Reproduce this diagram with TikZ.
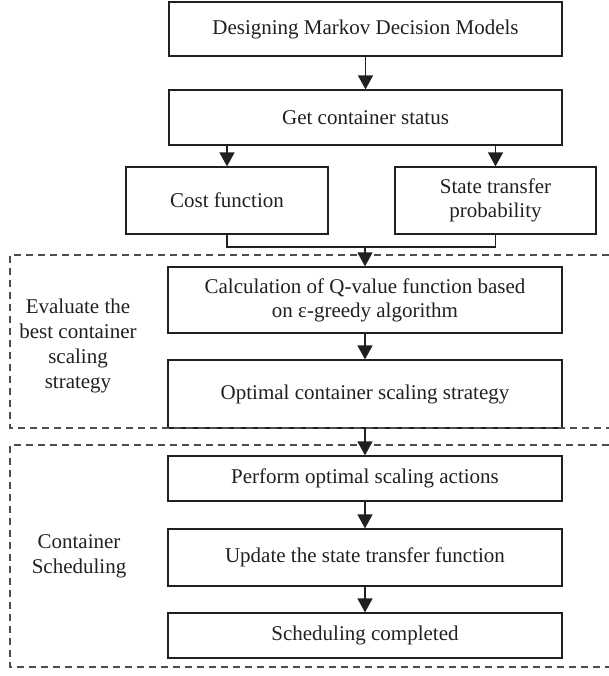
\documentclass[tikz,border=0pt]{standalone}
\usepackage{fontspec}
\setmainfont{Liberation Serif}
\usetikzlibrary{arrows.meta}
\definecolor{ink}{HTML}{231F20}
\definecolor{dashgray}{HTML}{4D4D4D}
\tikzset{
  box/.style={draw=ink, line width=1.2pt, inner sep=0pt, align=center, text=ink,
    font=\fontsize{21}{24}\selectfont},
  arr/.style={draw=ink, line width=1.3pt, -{Triangle[width=15pt,length=14pt]}},
  link/.style={draw=ink, line width=1.2pt},
  dashline/.style={draw=dashgray, line width=1.1pt, dash pattern=on 7pt off 5pt},
  sidelabel/.style={align=center, text=ink, inner sep=0pt, font=\fontsize{21}{25.3}\selectfont}
}
\begin{document}
\begin{tikzpicture}[x=1pt,y=-1pt]
\useasboundingbox (0,0) rectangle (609,676);
% boxes
\node[box, minimum width=393pt, minimum height=54pt] (b1) at (365.5,29) {Designing Markov Decision Models};
\node[box, minimum width=393pt, minimum height=55pt] (b2) at (365.5,117.5) {Get container status};
\node[box, minimum width=202pt, minimum height=67pt] (cost) at (227,200.5) {Cost function};
\node[box, minimum width=201pt, minimum height=67pt] (state) at (495.5,200.5) {State transfer\\probability};
\node[box, minimum width=394pt, minimum height=66pt] (q) at (365,300) {Calculation of Q-value function based\\on ε-greedy algorithm};
\node[box, minimum width=394pt, minimum height=68pt] (opt) at (365,394) {Optimal container scaling strategy};
\node[box, minimum width=394pt, minimum height=45pt] (perf) at (365,478.5) {Perform optimal scaling actions};
\node[box, minimum width=394pt, minimum height=57pt] (upd) at (365,557.5) {Update the state transfer function};
\node[box, minimum width=394pt, minimum height=45pt] (sched) at (365,635.5) {Scheduling completed};
% side labels
\node[sidelabel] (lab1) at (78,346) {Evaluate the\\best container\\scaling\\strategy};
\node[sidelabel] (lab2) at (79,556.5) {Container\\Scheduling};
% dashed group frames (open to the right edge)
\draw[dashline] (609,255) -- (10,255) -- (10,428) -- (609,428);
\draw[dashline] (609,445) -- (10,445) -- (10,667) -- (609,667);
% connectors
\coordinate (m) at (365,247);
\draw[arr] (b1.south) -- (b2.north);
\draw[arr] (cost.north |- b2.south) -- (cost.north);
\draw[arr] (state.north |- b2.south) -- (state.north);
\draw[link] (cost.south) |- (m);
\draw[link] (state.south) |- (m);
\draw[arr] (m) -- (q.north);
\draw[arr] (q.south) -- (opt.north);
\draw[arr] (opt.south) -- (perf.north);
\draw[arr] (perf.south) -- (upd.north);
\draw[arr] (upd.south) -- (sched.north);
\end{tikzpicture}
\end{document}
